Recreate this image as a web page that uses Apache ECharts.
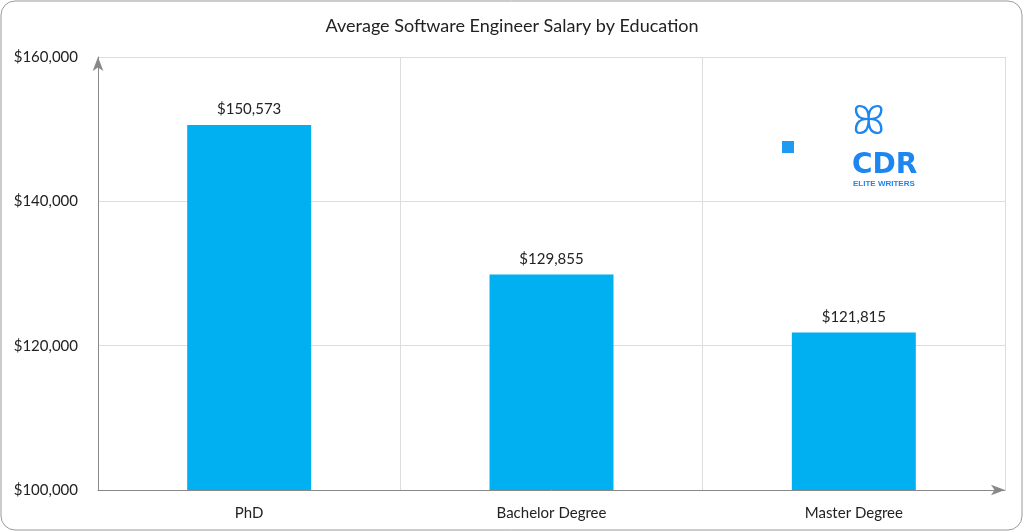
<!DOCTYPE html>
<html>
<head>
<meta charset="utf-8">
<script src="https://cdn.jsdelivr.net/npm/echarts@6/dist/echarts.min.js"></script>
<style>
html, body { margin: 0; padding: 0; background: #fff; }
#chart { width: 1024px; height: 532px; }
</style>
</head>
<body>
<div id="chart"></div>
<script>
const categories = ['PhD', 'Bachelor Degree', 'Master Degree'];
const salaries = [150573, 129855, 121815];
const yTicks = [100000, 120000, 140000, 160000];

const fmt = v => '$' + v.toLocaleString('en-US');

let myChart = echarts.init(document.getElementById('chart'));

option = {
	textStyle: { fontFamily: 'Lato, "Open Sans", sans-serif' },
	title: {
		text: 'Average Software Engineer Salary by Education',
		left: 'center',
		top: 12,
		textStyle: { fontSize: 18, fontWeight: 'normal', color: '#222' }
	},
	graphic: [{
		type: 'rect',
		shape: { x: 1, y: 1, width: 1021, height: 529, r: 14 },
		style: { fill: 'none', stroke: '#999', lineWidth: 1 },
		silent: true
	}, {
		type: 'rect',
		shape: { x: 782, y: 141, width: 12, height: 12 },
		style: { fill: '#1e9bf0' }
	}, {
		type: 'text',
		left: 852, top: 103,
		style: { text: 'ꕤ', fontSize: 40, fill: '#1e86f0' }
	}, {
		type: 'text',
		left: 852, top: 152,
		style: { text: 'CDR', fontSize: 28, fontWeight: 'bold', fill: '#1e86f0', fontFamily: 'DejaVu Sans' }
	}, {
		type: 'text',
		left: 853, top: 180,
		style: { text: 'ELITE WRITERS', fontSize: 8, fontWeight: 'bold', fill: '#1e86f0' }
	}],
	grid: { left: 98, right: 19, top: 57, bottom: 42 },
	xAxis: {
		type: 'category',
		data: categories,
		axisLine: { lineStyle: { color: '#888' }, symbol: ['none', 'arrow'], symbolSize: [8, 14] },
		axisTick: { show: false },
		axisLabel: { color: '#222', fontSize: 15, margin: 16 },
		splitLine: { show: true, interval: 0, lineStyle: { color: '#ddd' } }
	},
	yAxis: {
		type: 'value',
		min: yTicks[0],
		max: yTicks[yTicks.length - 1],
		interval: 20000,
		axisLine: { show: true, lineStyle: { color: '#888' }, symbol: ['none', 'arrow'], symbolSize: [8, 14] },
		axisLabel: { color: '#222', fontSize: 15, margin: 20, formatter: fmt },
		splitLine: { lineStyle: { color: '#ddd' } }
	},
	series: [{
		type: 'bar',
		data: salaries,
		barWidth: '41%',
		itemStyle: { color: '#00b0f0' },
		label: { show: true, position: 'top', distance: 8, color: '#222', fontSize: 15, formatter: p => fmt(p.value) }
	}]
};

myChart.setOption(option);
window.addEventListener('resize', function() {
	myChart.resize();
})
</script>
</body>
</html>
